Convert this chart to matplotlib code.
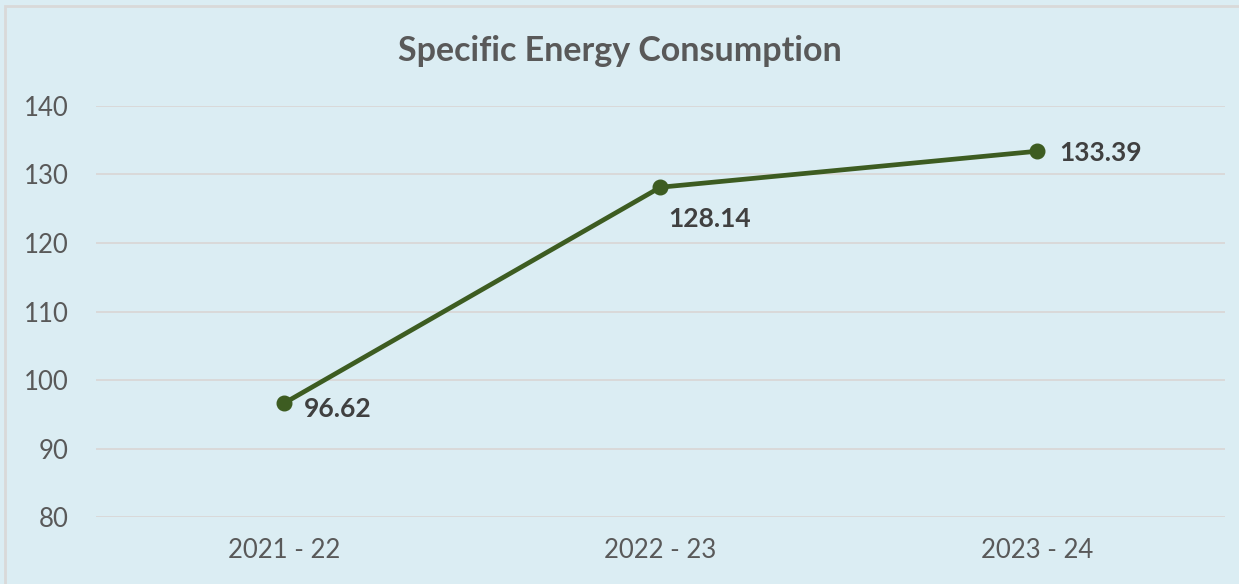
import matplotlib.pyplot as plt

years = ["2021 - 22", "2022 - 23", "2023 - 24"]
sec = [96.62, 128.14, 133.39]
label_offsets = [(14, -4), (6, -23), (16, -1)]

plt.rcParams['font.family'] = ['Lato', 'DejaVu Sans']

bg = "#dbedf3"
fig = plt.figure(figsize=(12.39, 5.84), dpi=100, facecolor=bg)
ax = fig.add_axes([0.0775, 0.1147, 0.911, 0.7038], facecolor=bg)

x = list(range(len(years)))
ax.plot(x, sec, color="#3d5c21", lw=3.4, marker="o", ms=10.5, zorder=3)

for i, v in enumerate(sec):
    ax.annotate(f"{v:.2f}", (i, v), xytext=label_offsets[i], textcoords="offset points",
                ha="left", va="center", fontsize=19, fontweight="bold", color="#404040")

ax.set_xlim(-0.5, 2.5)
ax.set_ylim(80, 140)
ax.set_yticks(range(80, 141, 10))
ax.set_xticks(x)
ax.set_xticklabels(years)
ax.grid(axis="y", color="#d9d9d9", lw=1.4)
ax.set_axisbelow(True)
for s in ax.spines.values():
    s.set_visible(False)
ax.tick_params(length=0, labelsize=18.5, colors="#595959")
ax.tick_params(axis="x", pad=15)
ax.tick_params(axis="y", pad=20)

fig.text(0.5, 0.912, "Specific Energy Consumption", ha="center", va="center",
         fontsize=24.5, fontweight="bold", color="#595959")

# chart border
fig.patches.append(plt.Rectangle((0.004, -0.01), 1.0, 1.0, transform=fig.transFigure,
                                 fill=False, edgecolor="#d9d9d9", lw=2))

fig.savefig("out.png", dpi=100, facecolor=bg)
